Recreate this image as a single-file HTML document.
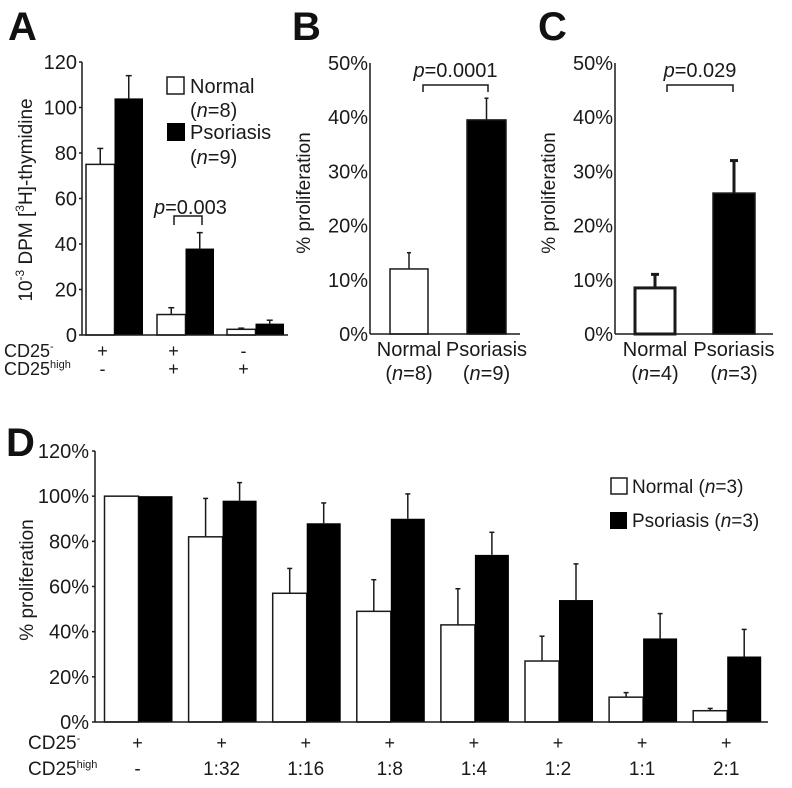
<!DOCTYPE html>
<html><head><meta charset="utf-8"><style>
html,body{margin:0;padding:0;background:#fff;}
svg{display:block;font-family:"Liberation Sans",Arial,sans-serif;}
</style></head><body>
<svg id="fig" width="792" height="788" viewBox="0 0 792 788" xmlns="http://www.w3.org/2000/svg">
<g fill="#111">
<text x="8" y="40" font-size="40" font-weight="bold">A</text>
<text x="292" y="40" font-size="40" font-weight="bold">B</text>
<text x="538" y="40" font-size="40" font-weight="bold">C</text>
<text x="6" y="456" font-size="40" font-weight="bold">D</text>
</g>
<g id="A"></g>
<g id="B"></g>
<g id="C"></g>
<g id="D"></g>
</svg>
<script>
// Panel A
const aTicks = [0,20,40,60,80,100,120];
const aNormal = [75,9,2.5];
const aNormalErr = [82,12,3];
const aPso = [104,38,5];
const aPsoErr = [114,45,6.5];
const aCD25neg = ['+','+','-'];
const aCD25high = ['-','+','+'];
// Panel B
const bTicks = ['0%','10%','20%','30%','40%','50%'];
const bValues = [12,39.5];
const bErr = [15,43.5];
const bCats = ['Normal','Psoriasis'];
const bN = ['8','9'];
// Panel C
const cValues = [8.5,26];
const cErr = [11,32];
const cN = ['4','3'];
// Panel D
const dTicks = [0,20,40,60,80,100,120];
const dNormal = [100,82,57,49,43,27,11,5];
const dNormalErr = [100,99,68,63,59,38,13,6];
const dPso = [100,98,88,90,74,54,37,29];
const dPsoErr = [100,106,97,101,84,70,48,41];
const dCD25neg = ['+','+','+','+','+','+','+','+'];
const dRatios = ['-','1:32','1:16','1:8','1:4','1:2','1:1','2:1'];

const NS='http://www.w3.org/2000/svg';
function mk(parent,tag,attrs,text){const e=document.createElementNS(NS,tag);for(const k in attrs)e.setAttribute(k,attrs[k]);if(text!==undefined)e.textContent=text;parent.appendChild(e);return e;}
const COL='#1a1a1a';

function errbar(g,x,y0,y1,w,sw){
  sw=sw||1.5;
  const l=mk(g,'line',{x1:x,x2:x,y1:y0,y2:y1,stroke:COL,'stroke-width':sw});
  
  
  mk(g,'line',{x1:x-w,x2:x+w,y1:y1,y2:y1,stroke:COL,'stroke-width':sw});
}

// ---------- Panel A ----------
(function(){
  const g=document.getElementById('A');
  const x0=82,xEnd=288,yb=335,yt=62,max=120;
  const y=v=>yb-(v/max)*(yb-yt);
  const groupX=[86,157,227];
  const bw=28.5;
  aTicks.forEach(t=>{
    const tx=mk(g,'text',{x:77,y:y(t)+7,'font-size':20,'text-anchor':'end',fill:COL},t);
    
    
    mk(g,'line',{x1:x0-3,x2:x0,y1:y(t),y2:y(t),stroke:COL,'stroke-width':1.5});
  });
  aNormal.forEach((v,i)=>{
    const r=mk(g,'rect',{x:groupX[i],y:y(v),width:bw,height:yb-y(v),fill:'#fff',stroke:COL,'stroke-width':1.5});
    
    
    errbar(g,groupX[i]+bw/2,y(v),y(aNormalErr[i]),3);
    const r2=mk(g,'rect',{x:groupX[i]+bw,y:y(aPso[i]),width:bw,height:yb-y(aPso[i]),fill:'#000'});
    
    
    errbar(g,groupX[i]+bw*1.5,y(aPso[i]),y(aPsoErr[i]),3);
    const c=groupX[i]+bw-12;
    mk(g,'text',{x:c,y:357,'font-size':18,'text-anchor':'middle',fill:COL},aCD25neg[i]);
    mk(g,'text',{x:c,y:375,'font-size':18,'text-anchor':'middle',fill:COL},aCD25high[i]);
  });
  mk(g,'line',{x1:x0,x2:x0,y1:yt,y2:yb,stroke:COL,'stroke-width':1.5});
  mk(g,'line',{x1:x0,x2:xEnd,y1:yb,y2:yb,stroke:COL,'stroke-width':1.5});
  const tt=mk(g,'text',{transform:'translate(32,200) rotate(-90)','font-size':19,'text-anchor':'middle',fill:COL});
  
  
  tt.innerHTML='10<tspan dy="-8" font-size="12">-3</tspan><tspan dy="8"> DPM  [</tspan><tspan dy="-8" font-size="12">3</tspan><tspan dy="8">H]-thymidine</tspan>';
  const c1=mk(g,'text',{x:4,y:357,'font-size':18,fill:COL});c1.innerHTML='CD25<tspan dy="-7" font-size="11">-</tspan>';
  const c2=mk(g,'text',{x:4,y:375,'font-size':18,fill:COL});c2.innerHTML='CD25<tspan dy="-7" font-size="11">high</tspan>';
  mk(g,'path',{d:'M174 225 V216 H202 V225',fill:'none',stroke:COL,'stroke-width':1.5});
  const p=mk(g,'text',{x:154,y:214,'font-size':20,fill:COL});p.innerHTML='<tspan font-style="italic">p</tspan>=0.003';
  const lg=mk(g,'g',{});
  
  
  mk(lg,'rect',{x:167,y:77,width:17,height:17,fill:'#fff',stroke:COL,'stroke-width':1.5});
  mk(lg,'text',{x:190,y:93,'font-size':20,fill:COL},'Normal');
  const n1=mk(lg,'text',{x:190,y:117,'font-size':20,fill:COL});n1.innerHTML='(<tspan font-style="italic">n</tspan>=8)';
  mk(lg,'rect',{x:167,y:123,width:18,height:18,fill:'#000'});
  mk(lg,'text',{x:190,y:139,'font-size':20,fill:COL},'Psoriasis');
  const n2=mk(lg,'text',{x:190,y:164,'font-size':20,fill:COL});n2.innerHTML='(<tspan font-style="italic">n</tspan>=9)';
})();

// ---------- Panel B & C ----------
function smallPanel(id,x0,xEnd,bars,vals,errs,ns,pText,br,thick){
  const g=document.getElementById(id);
  const yb=334,yt=63,max=50;
  const y=v=>yb-(v/max)*(yb-yt);
  bTicks.forEach((t,i)=>{
    const v=i*10;
    const tx=mk(g,'text',{x:x0-2,y:y(v)+7,'font-size':20,'text-anchor':'end',fill:COL},t);
    
    
  });
  vals.forEach((v,i)=>{
    const [bx,bw]=bars[i];
    const ew=thick?4:2;
    errbar(g,bx+bw/2,y(v),y(errs[i]),ew,thick?3:1.5);
    const r=mk(g,'rect',{x:bx,y:y(v),width:bw,height:yb-y(v),fill:i?'#000':'#fff',stroke:COL,'stroke-width':thick&&!i?3:1.5});
    
    
    mk(g,'text',{x:bx+bw/2,y:356,'font-size':20,'text-anchor':'middle',fill:COL},bCats[i]);
    const n=mk(g,'text',{x:bx+bw/2,y:380,'font-size':20,'text-anchor':'middle',fill:COL});
    n.innerHTML='(<tspan font-style="italic">n</tspan>='+ns[i]+')';
  });
  mk(g,'line',{x1:x0,x2:x0,y1:yt,y2:yb,stroke:COL,'stroke-width':1.5});
  mk(g,'line',{x1:x0,x2:xEnd,y1:yb,y2:yb,stroke:COL,'stroke-width':1.5});
  const tt=mk(g,'text',{transform:'translate('+(x0-60)+',193) rotate(-90)','font-size':19,'text-anchor':'middle',fill:COL},'% proliferation');
  
  
  mk(g,'path',{d:'M'+br[0]+' 92 V85 H'+br[1]+' V92',fill:'none',stroke:COL,'stroke-width':1.5});
  const p=mk(g,'text',{x:(br[0]+br[1])/2,y:77,'font-size':20,'text-anchor':'middle',fill:COL});
  p.innerHTML='<tspan font-style="italic">p</tspan>='+pText;
}
smallPanel('B',370,520,[[390,38],[467,39]],bValues,bErr,bN,'0.0001',[423,488],false);
smallPanel('C',615,773,[[635,40],[713,42]],cValues,cErr,cN,'0.029',[667,733],true);

// ---------- Panel D ----------
(function(){
  const g=document.getElementById('D');
  const x0=95,xEnd=768,yb=722,yt=451,max=120;
  const y=v=>yb-(v/max)*(yb-yt);
  const bw=34,first=104.5,step=84.1;
  dTicks.forEach(t=>{
    const tx=mk(g,'text',{x:89,y:y(t)+7,'font-size':20,'text-anchor':'end',fill:COL},t+'%');
    
    
    mk(g,'line',{x1:x0-3,x2:x0,y1:y(t),y2:y(t),stroke:COL,'stroke-width':1.5});
  });
  dNormal.forEach((v,i)=>{
    const gx=first+i*step;
    const r=mk(g,'rect',{x:gx,y:y(v),width:bw,height:yb-y(v),fill:'#fff',stroke:COL,'stroke-width':1.5});
    
    
    if(dNormalErr[i]>v) errbar(g,gx+bw/2,y(v),y(dNormalErr[i]),2.5);
    const r2=mk(g,'rect',{x:gx+bw,y:y(dPso[i]),width:bw,height:yb-y(dPso[i]),fill:'#000'});
    
    
    if(dPsoErr[i]>dPso[i]) errbar(g,gx+bw*1.5,y(dPso[i]),y(dPsoErr[i]),2.5);
    mk(g,'text',{x:gx+bw-1,y:749,'font-size':18,'text-anchor':'middle',fill:COL},dCD25neg[i]);
    const xl=mk(g,'text',{x:gx+bw-1,y:775,'font-size':19,'text-anchor':'middle',fill:COL},dRatios[i]);
    
    
  });
  mk(g,'line',{x1:x0,x2:x0,y1:yt,y2:yb,stroke:COL,'stroke-width':1.5});
  mk(g,'line',{x1:x0,x2:xEnd,y1:yb,y2:yb,stroke:COL,'stroke-width':1.5});
  const tt=mk(g,'text',{transform:'translate(33,580) rotate(-90)','font-size':19,'text-anchor':'middle',fill:COL},'% proliferation');
  
  
  const c1=mk(g,'text',{x:28,y:749,'font-size':19,fill:COL});c1.innerHTML='CD25<tspan dy="-7" font-size="11">-</tspan>';
  const c2=mk(g,'text',{x:28,y:775,'font-size':19,fill:COL});c2.innerHTML='CD25<tspan dy="-7" font-size="11">high</tspan>';
  const lg=mk(g,'g',{});
  
  
  mk(lg,'rect',{x:611,y:478,width:16,height:16,fill:'#fff',stroke:COL,'stroke-width':1.5});
  const l1=mk(lg,'text',{x:632,y:493,'font-size':19,fill:COL});l1.innerHTML='Normal (<tspan font-style="italic">n</tspan>=3)';
  mk(lg,'rect',{x:610,y:512,width:17,height:17,fill:'#000'});
  const l2=mk(lg,'text',{x:632,y:527,'font-size':19,fill:COL});l2.innerHTML='Psoriasis (<tspan font-style="italic">n</tspan>=3)';
})();
</script>
</body></html>
